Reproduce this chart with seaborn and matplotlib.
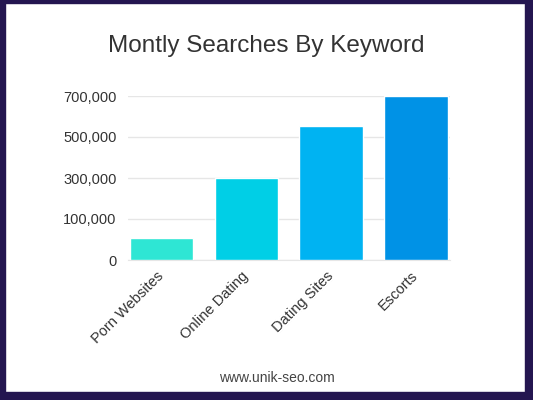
import matplotlib
matplotlib.use("Agg")
import matplotlib.pyplot as plt
import seaborn as sns
import pandas as pd
from matplotlib.patches import Rectangle

# 数据
keywords = ["Porn Websites", "Online Dating", "Dating Sites", "Escorts"]
searches = [95000, 350000, 574000, 700000]
bar_colors = ["#2ee6d4", "#00cfe6", "#00b3f2", "#0092e6"]
tick_values = [0, 175000, 350000, 525000, 700000]
tick_labels = ["0", "100,000", "300,000", "500,000", "700,000"]

df = pd.DataFrame({"keyword": keywords, "searches": searches})

sns.set_style("white")
plt.rcParams["font.family"] = ["Liberation Sans", "DejaVu Sans"]

fig = plt.figure(figsize=(5.33, 4.0), dpi=100)
fig.patch.set_facecolor("white")

# 外框 (左 5px, 右 8px, 上 3px, 下 8px)
border = "#241650"
W, H = 533, 400
for x0, y0, w, h in [(0, 0, W, 8), (0, H - 3, W, 3), (0, 0, 5, H), (W - 8, 0, 8, H)]:
    fig.patches.append(Rectangle((x0 / W, y0 / H), w / W, h / H,
                                 transform=fig.transFigure, color=border, zorder=0))

ax = fig.add_axes([127.8 / W, 0.35, (449.9 - 127.8) / W, 0.41])
sns.barplot(data=df, x="keyword", y="searches", hue="keyword", palette=bar_colors,
            saturation=1, width=0.75, legend=False, ax=ax, zorder=3)

ax.set_xlim(-0.4, 3.4)
ax.set_ylim(0, 700000)
ax.set_yticks(tick_values)
ax.set_yticklabels(tick_labels)
ax.yaxis.grid(True, color="#e6e6e6", linewidth=1, zorder=0)
ax.set_axisbelow(True)
for s in ["top", "right", "left"]:
    ax.spines[s].set_visible(False)
ax.spines["bottom"].set_color("#e6e6e6")
ax.set_xlabel("")
ax.set_ylabel("")
ax.tick_params(axis="y", length=0, labelsize=10.5, labelcolor="#333333", pad=8)
ax.tick_params(axis="x", length=0, labelsize=10.5, labelcolor="#333333", pad=10)
plt.setp(ax.get_xticklabels(), rotation=45, ha="right", va="center", rotation_mode="anchor")

fig.text(266 / W, 1 - 46 / H, "Montly Searches By Keyword", ha="center", va="center",
         fontsize=17.5, color="#333333")
fig.text(277 / W, 1 - 378 / H, "www.unik-seo.com", ha="center", va="center",
         fontsize=10, color="#444444")

fig.savefig("out.png", dpi=100)
